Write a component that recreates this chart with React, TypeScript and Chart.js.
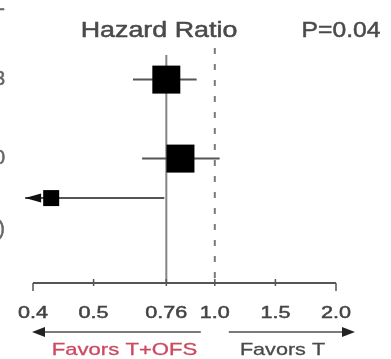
import React, { useEffect, useRef } from "react";
import { Chart, registerables } from "chart.js";

Chart.register(...registerables);

// Axis is drawn with evenly spaced breakpoints (piecewise scale as in the source figure)
const axisBreaks = [0.4, 0.5, 0.7, 1.0, 1.5, 2.0];
const tickValues = [0.4, 0.5, 0.76, 1.0, 1.5, 2.0];
const tickLabels = ["0.4", "0.5", "0.76", "1.0", "1.5", "2.0"];

// Forest plot rows
const rowPositions = [1, 3, 4];
const hazardRatios = [0.76, 0.83, 0.43];
const ciLower = [0.63, 0.66, 0.3];
const ciUpper = [0.91, 1.04, 0.75];
const boxSizes = [28, 28, 16];

const overallHR = 0.76;
const nullHR = 1.0;

const titleText = "Hazard Ratio";
const pValueText = "P=0.04";
const favorLeftText = "Favors T+OFS";
const favorRightText = "Favors T";

// Fragments of the cropped label column at the left edge
const edgeLabels = ["-", "3", "0", ")"];
const edgeLabelRows = [-0.78, 1, 3, 4.79];

function toAxis(v: number): number {
  const b = axisBreaks;
  let i = 0;
  if (v >= b[b.length - 1]) i = b.length - 2;
  else {
    for (let k = 0; k < b.length - 1; k++) {
      if (v >= b[k] && v <= b[k + 1]) {
        i = k;
        break;
      }
    }
  }
  return i + (v - b[i]) / (b[i + 1] - b[i]);
}

const AXIS_MIN = 0;
const AXIS_MAX = axisBreaks.length - 1;
const CLIP_MIN = -0.13;

function stretchText(
  ctx: CanvasRenderingContext2D,
  text: string,
  x: number,
  y: number,
  size: number,
  color: string,
  sx: number,
  align: CanvasTextAlign = "center",
  baseline: CanvasTextBaseline = "alphabetic",
  weight = 0.5
) {
  ctx.save();
  ctx.font = `${size}px "Liberation Sans", Arial, sans-serif`;
  ctx.fillStyle = color;
  ctx.strokeStyle = color;
  ctx.lineWidth = weight;
  ctx.textAlign = align;
  ctx.textBaseline = baseline;
  ctx.translate(x, y);
  ctx.scale(sx, 1);
  ctx.fillText(text, 0, 0);
  if (weight > 0) ctx.strokeText(text, 0, 0);
  ctx.restore();
}

function arrowHead(
  ctx: CanvasRenderingContext2D,
  tipX: number,
  y: number,
  dir: number,
  len: number,
  half: number,
  color: string
) {
  ctx.save();
  ctx.fillStyle = color;
  ctx.beginPath();
  ctx.moveTo(tipX, y);
  ctx.lineTo(tipX - dir * len, y - half);
  ctx.lineTo(tipX - dir * len, y + half);
  ctx.closePath();
  ctx.fill();
  ctx.restore();
}

const forestPlugin = {
  id: "forestDecor",
  beforeDatasetsDraw(chart: any) {
    const { ctx, chartArea, scales } = chart;
    const xs = scales.x;
    ctx.save();
    // null line (dashed)
    const xn = xs.getPixelForValue(toAxis(nullHR));
    ctx.strokeStyle = "#7a7a7a";
    ctx.lineWidth = 2;
    ctx.setLineDash([6, 10]);
    ctx.beginPath();
    ctx.moveTo(xn, chartArea.top);
    ctx.lineTo(xn, chartArea.bottom);
    ctx.stroke();
    // overall HR line (solid)
    ctx.setLineDash([]);
    const xo = xs.getPixelForValue(toAxis(overallHR));
    ctx.strokeStyle = "#858585";
    ctx.beginPath();
    ctx.moveTo(xo, chartArea.top + 7);
    ctx.lineTo(xo, chartArea.bottom);
    ctx.stroke();
    ctx.restore();
  },
  afterDatasetsDraw(chart: any) {
    const { ctx, chartArea, scales } = chart;
    const xs = scales.x;
    const ys = scales.y;
    const axisY = chartArea.bottom;
    const x0 = xs.getPixelForValue(AXIS_MIN);
    const x1 = xs.getPixelForValue(AXIS_MAX);
    ctx.save();

    // truncated CI arrowheads
    rowPositions.forEach((r, i) => {
      if (ciLower[i] < axisBreaks[0]) {
        const tip = xs.getPixelForValue(CLIP_MIN);
        arrowHead(ctx, tip, ys.getPixelForValue(r), -1, 16, 4.5, "#111");
      }
    });

    // axis line
    ctx.strokeStyle = "#555";
    ctx.lineWidth = 2;
    ctx.beginPath();
    ctx.moveTo(x0, axisY);
    ctx.lineTo(x1, axisY);
    ctx.stroke();
    // ticks
    tickValues.forEach((v, i) => {
      const px = xs.getPixelForValue(toAxis(v));
      const isEnd = i === 0 || i === tickValues.length - 1;
      ctx.strokeStyle = "#555";
      ctx.lineWidth = 1.5;
      ctx.beginPath();
      if (isEnd) {
        ctx.moveTo(px, axisY);
        ctx.lineTo(px, axisY + 8);
      } else {
        ctx.moveTo(px, axisY - 4);
        ctx.lineTo(px, axisY + 3);
      }
      ctx.stroke();
      stretchText(ctx, tickLabels[i], px, axisY + 35, 17, "#444", 1.27);
    });

    // title and p-value
    stretchText(ctx, titleText, 159, 37, 22, "#4a4a4a", 1.22);
    stretchText(ctx, pValueText, 341, 37, 22, "#4a4a4a", 1.12);

    // favors arrows
    const xnull = xs.getPixelForValue(toAxis(nullHR));
    const ay = axisY + 49;
    ctx.strokeStyle = "#7a7a7a";
    ctx.lineWidth = 2;
    const leftTip = x0 - 1;
    const rightTip = x1 + 19;
    ctx.beginPath();
    ctx.moveTo(xnull - 14, ay);
    ctx.lineTo(leftTip + 8, ay);
    ctx.moveTo(xnull + 14, ay);
    ctx.lineTo(rightTip - 8, ay);
    ctx.stroke();
    arrowHead(ctx, leftTip, ay, -1, 13, 5, "#222");
    arrowHead(ctx, rightTip, ay, 1, 13, 5, "#222");

    stretchText(ctx, favorLeftText, 124.5, axisY + 72, 17, "#cc4a60", 1.3, "center", "alphabetic", 0.3);
    stretchText(ctx, favorRightText, 282.5, axisY + 72, 17, "#4a4a4a", 1.27, "center", "alphabetic", 0.3);

    // cropped left column fragments
    edgeLabels.forEach((t, i) => {
      stretchText(ctx, t, 5, ys.getPixelForValue(edgeLabelRows[i]), 20, "#666", 1.0, "right", "middle");
    });

    ctx.restore();
  },
};

export default function App() {
  const canvasRef = useRef<HTMLCanvasElement | null>(null);

  useEffect(() => {
    if (!canvasRef.current) return;

    const boxData = rowPositions.map((r, i) => ({ x: toAxis(hazardRatios[i]), y: r }));
    const ciDatasets = rowPositions.map((r, i) => ({
      type: "line" as const,
      data: [
        { x: Math.max(toAxis(ciLower[i]), CLIP_MIN), y: r },
        { x: toAxis(ciUpper[i]), y: r },
      ],
      borderColor: "#555",
      borderWidth: 2,
      pointRadius: 0,
      showLine: true,
      clip: false as any,
    }));

    const chart = new Chart(canvasRef.current, {
      type: "scatter",
      data: {
        datasets: [
          {
            data: boxData,
            pointStyle: "rect",
            pointRadius: boxSizes.map((s) => s / Math.SQRT2),
            backgroundColor: "#000",
            borderWidth: 0,
            clip: false as any,
          } as any,
          ...ciDatasets,
        ],
      },
      options: {
        animation: false,
        responsive: false,
        events: [],
        layout: { padding: { left: 33, right: 55, top: 48, bottom: 76 } },
        scales: {
          x: { type: "linear", min: AXIS_MIN, max: AXIS_MAX, display: false },
          y: { type: "linear", min: 0.2, max: 6.15, reverse: true, display: false },
        },
        plugins: { legend: { display: false }, tooltip: { enabled: false } },
      },
      plugins: [forestPlugin],
    });
    return () => chart.destroy();
  }, []);

  return (
    <div style={{ position: "fixed", left: 0, top: 0, width: 391, height: 359, background: "#fff" }}>
      <canvas ref={canvasRef} width={391} height={359} style={{ display: "block" }} />
    </div>
  );
}
